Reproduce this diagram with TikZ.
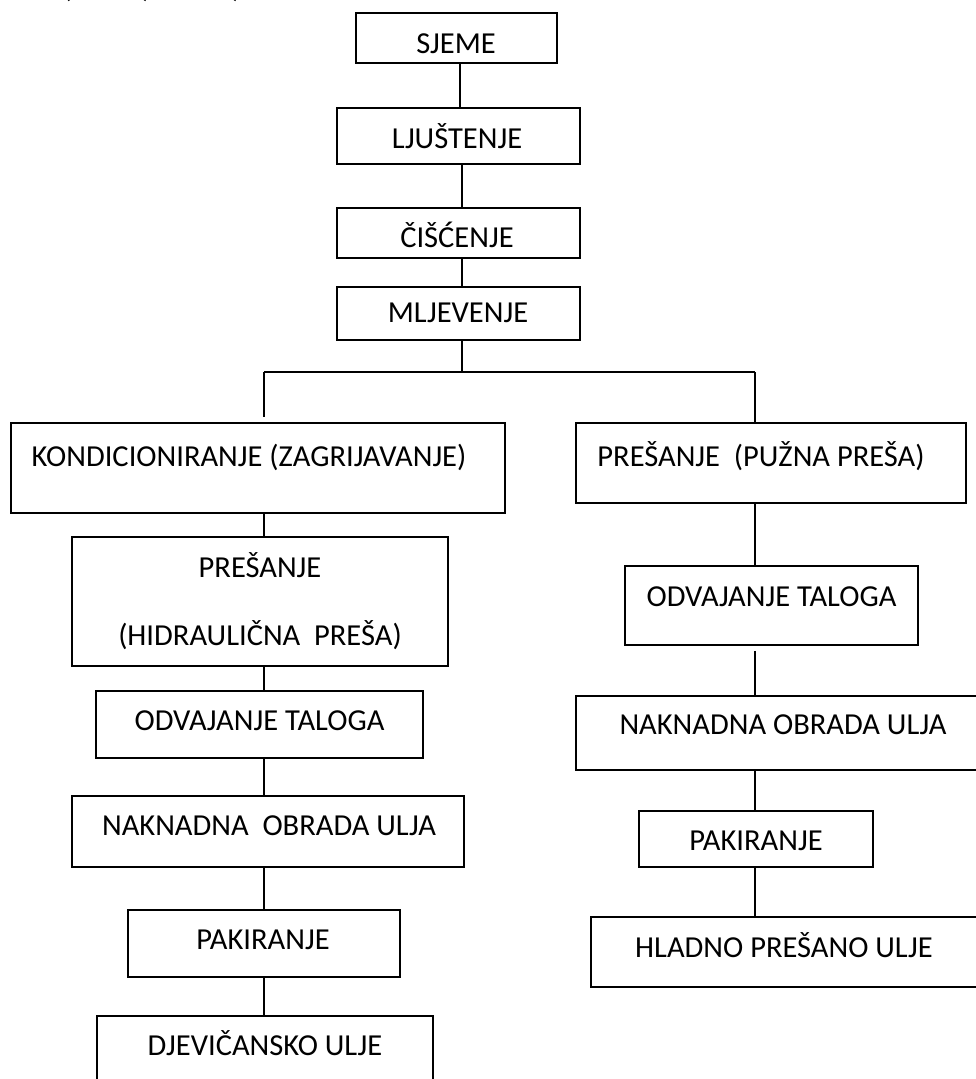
\documentclass[tikz,border=0pt]{standalone}
\usepackage{fontspec}
\setmainfont{Carlito}
\tikzset{
  box/.style={draw, rectangle, line width=1.8pt, inner sep=0pt},
  lbl/.style={anchor=base, inner sep=0pt, font=\fontsize{30.5}{36}\selectfont},
  conn/.style={line width=1.5pt},
}
\begin{document}
\begin{tikzpicture}[x=1pt,y=-1pt]
\useasboundingbox (0,0) rectangle (976,1079);
\clip (0,0) rectangle (976,1079);
% cut-off fragments at the top edge
\node[lbl] (f1) at (67,-3) {(};
\node[lbl] (f2) at (147,-3) {)};
\node[lbl] (f3) at (237,-3) {)};
% boxes
\node[box, minimum width=201pt, minimum height=50pt] (sjeme) at (456.5,38) {};
\node[box, minimum width=243pt, minimum height=56pt] (ljus) at (458.5,136) {};
\node[box, minimum width=243pt, minimum height=50pt] (cisc) at (458.5,233) {};
\node[box, minimum width=243pt, minimum height=53pt] (mljev) at (458.5,313.5) {};
\node[box, minimum width=494pt, minimum height=90pt] (kond) at (258,468) {};
\node[box, minimum width=390pt, minimum height=80pt] (puz) at (771,463) {};
\node[box, minimum width=376pt, minimum height=129pt] (hyd) at (260,601.5) {};
\node[box, minimum width=327pt, minimum height=67pt] (odvL) at (259.5,724.5) {};
\node[box, minimum width=392pt, minimum height=71pt] (nakL) at (268,831.5) {};
\node[box, minimum width=272pt, minimum height=67pt] (pakL) at (264,943.5) {};
\node[box, minimum width=336pt, minimum height=84pt] (djev) at (265,1058) {};
\node[box, minimum width=293pt, minimum height=79pt] (odvR) at (771.5,605.5) {};
\node[box, minimum width=414pt, minimum height=74pt] (nakR) at (783,733) {};
\node[box, minimum width=234pt, minimum height=56pt] (pakR) at (756,839) {};
\node[box, minimum width=399pt, minimum height=70pt] (hlad) at (790.5,952) {};
% labels
\node[lbl] (tsjeme) at (456,53) {SJEME};
\node[lbl] (tljus) at (457,148) {LJUŠTENJE};
\node[lbl] (tcisc) at (457,247) {ČIŠĆENJE};
\node[lbl] (tmljev) at (458,322) {MLJEVENJE};
\node[lbl] (tkond) at (249,466.5) {KONDICIONIRANJE (ZAGRIJAVANJE)};
\node[lbl] (tpuz) at (761,466.5) {PREŠANJE\ \ (PUŽNA PREŠA)};
\node[lbl] (thyd1) at (260,577) {PREŠANJE};
\node[lbl] (thyd2) at (260,645) {(HIDRAULIČNA\ \ PREŠA)};
\node[lbl] (todvL) at (259.5,730) {ODVAJANJE TALOGA};
\node[lbl] (tnakL) at (269,835) {NAKNADNA\ \ OBRADA ULJA};
\node[lbl] (tpakL) at (263,949) {PAKIRANJE};
\node[lbl] (tdjev) at (265,1055) {DJEVIČANSKO ULJE};
\node[lbl] (todvR) at (771.5,606) {ODVAJANJE TALOGA};
\node[lbl] (tnakR) at (783,734) {NAKNADNA OBRADA ULJA};
\node[lbl] (tpakR) at (756,850) {PAKIRANJE};
\node[lbl] (thlad) at (784,957) {HLADNO PREŠANO ULJE};
% reference coordinates
\coordinate (c1) at (460,0);
\coordinate (c2) at (462,0);
\coordinate (L) at (264,0);
\coordinate (R) at (755,0);
\coordinate (J) at (462,372);
\coordinate (JL) at (264,372);
\coordinate (JR) at (755,372);
\coordinate (LE) at (264,417);
% connectors
\draw[conn] (sjeme.south -| c1) -- (ljus.north -| c1);
\draw[conn] (ljus.south -| c2) -- (cisc.north -| c2);
\draw[conn] (cisc.south -| c2) -- (mljev.north -| c2);
\draw[conn] (mljev.south -| c2) -- (J);
\draw[conn] (JL) -- (JR);
\draw[conn] (JL) -- (LE);
\draw[conn] (JR) -- (puz.north -| R);
\draw[conn] (kond.south -| L) -- (hyd.north -| L);
\draw[conn] (hyd.south -| L) -- (odvL.north -| L);
\draw[conn] (odvL.south -| L) -- (nakL.north -| L);
\draw[conn] (nakL.south -| L) -- (pakL.north -| L);
\draw[conn] (pakL.south -| L) -- (djev.north -| L);
\draw[conn] (puz.south -| R) -- (odvR.north -| R);
\draw[conn, shorten <=5pt] (odvR.south -| R) -- (nakR.north -| R);
\draw[conn] (nakR.south -| R) -- (pakR.north -| R);
\draw[conn] (pakR.south -| R) -- (hlad.north -| R);
\end{tikzpicture}
\end{document}
